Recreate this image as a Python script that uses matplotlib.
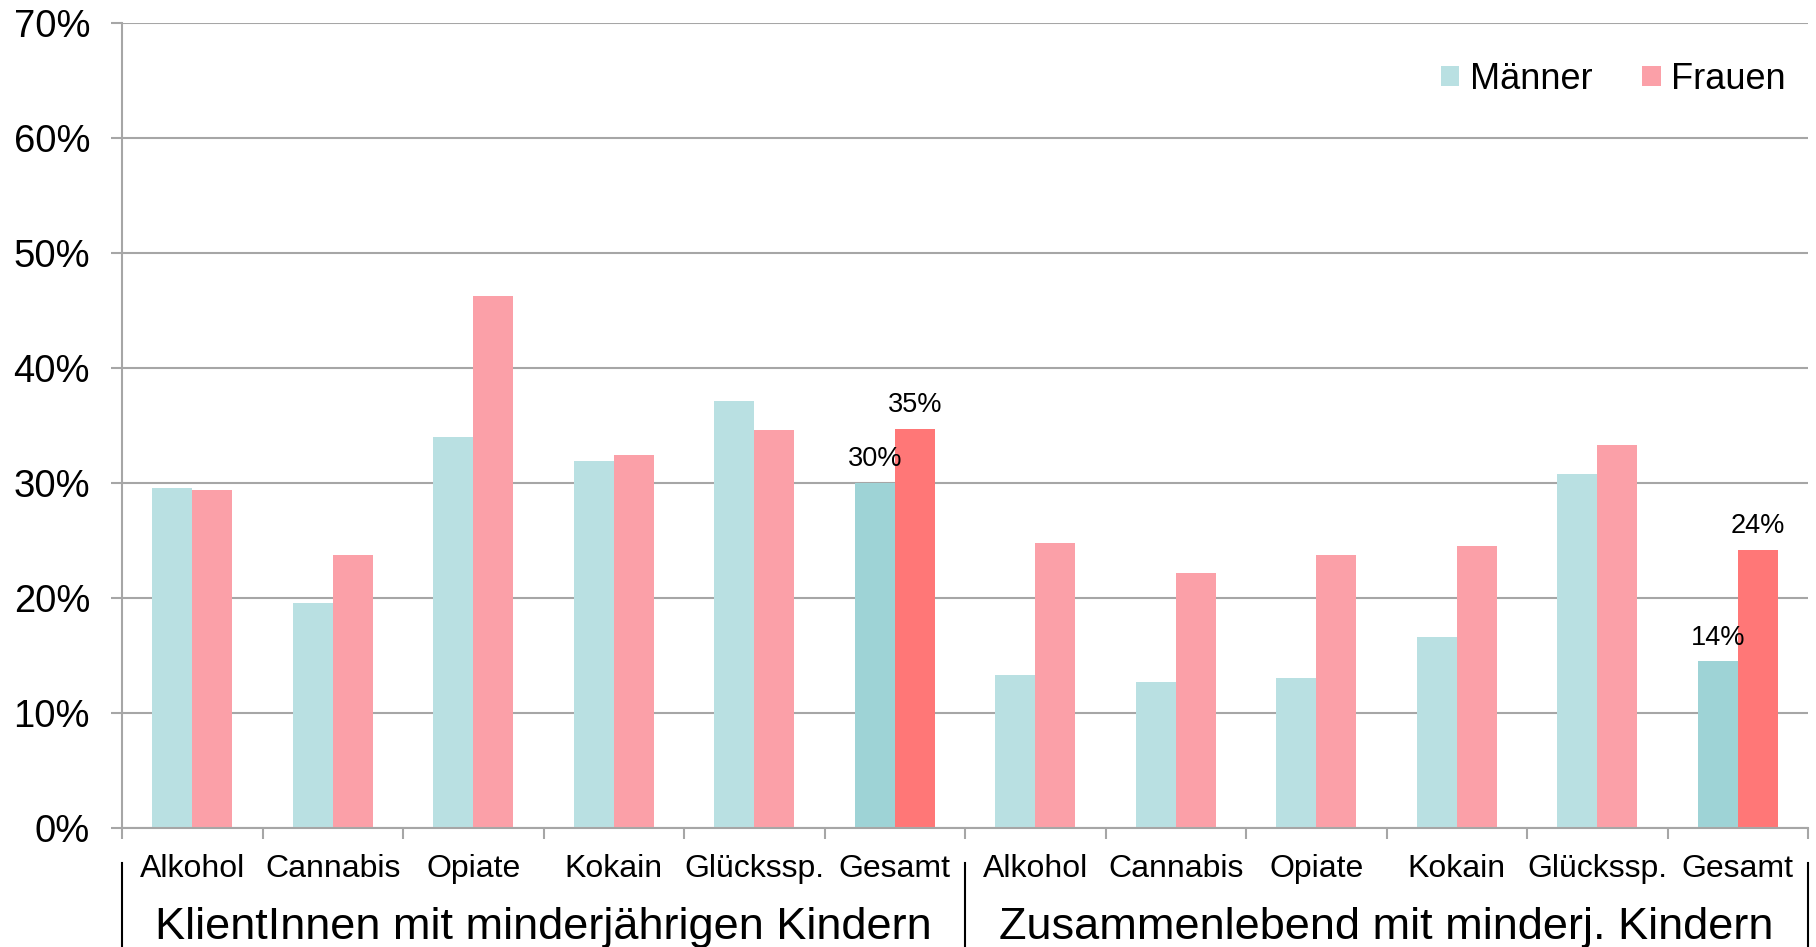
import numpy as np
import matplotlib
matplotlib.use('Agg')
import matplotlib.pyplot as plt
import matplotlib.transforms as mtransforms

plt.rcParams['font.family'] = ['Liberation Sans', 'DejaVu Sans']

tick_labels = ['Alkohol', 'Cannabis', 'Opiate', 'Kokain', 'Glückssp.', 'Gesamt',
               'Alkohol', 'Cannabis', 'Opiate', 'Kokain', 'Glückssp.', 'Gesamt']
groups = ['KlientInnen mit minderjährigen Kindern', 'Zusammenlebend mit minderj. Kindern']
maenner = [29.6, 19.6, 34.0, 31.9, 37.1, 30.0, 13.3, 12.7, 13.0, 16.6, 30.8, 14.5]
frauen = [29.4, 23.7, 46.3, 32.4, 34.6, 34.7, 24.8, 22.2, 23.7, 24.5, 33.3, 24.2]
labelled = [5, 11]

c_m, c_f = '#B9E0E2', '#FBA0A8'
c_m_dark, c_f_dark = '#9ED3D6', '#FF7777'

fig = plt.figure(figsize=(18.16, 9.47), dpi=100)
ax = fig.add_axes([0.0672, 0.1257, 0.9284, 0.85])

x = np.arange(len(tick_labels))
w = 0.285
col_m = [c_m_dark if i in labelled else c_m for i in x]
col_f = [c_f_dark if i in labelled else c_f for i in x]
ax.bar(x - w / 2, maenner, w, color=col_m, label='Männer', zorder=2)
ax.bar(x + w / 2, frauen, w, color=col_f, label='Frauen', zorder=2)

# Prozentwerte nur fuer "Gesamt"
for i in labelled:
    ax.annotate('{:.0f}%'.format(maenner[i]), (x[i] - w / 2, maenner[i]), xytext=(0, 17),
                textcoords='offset points', ha='center', va='center', fontsize=19.5, zorder=3)
    ax.annotate('{:.0f}%'.format(frauen[i]), (x[i] + w / 2, frauen[i]), xytext=(0, 17),
                textcoords='offset points', ha='center', va='center', fontsize=19.5, zorder=3)

ax.set_xlim(-0.5, 11.5)
ax.set_ylim(0, 70)
ax.set_yticks(np.arange(0, 71, 10))
ax.set_yticklabels(['{}%'.format(v) for v in range(0, 71, 10)], fontsize=27.5)
ax.yaxis.grid(True, color='#A6A6A6', linewidth=1.5, zorder=0)
ax.set_axisbelow(True)

ax.set_xticks(x)
ax.set_xticklabels(tick_labels, fontsize=23)
ax.set_xticks(np.arange(-0.5, 12, 1), minor=True)
ax.tick_params(axis='x', which='major', length=0, pad=19)
ax.tick_params(axis='x', which='minor', length=8, width=1.5, color='#A6A6A6')
ax.tick_params(axis='y', length=8, width=1.5, color='#A6A6A6', pad=15)

for s in ['top', 'right']:
    ax.spines[s].set_visible(False)
for s in ['left', 'bottom']:
    ax.spines[s].set_color('#A6A6A6')
    ax.spines[s].set_linewidth(1.5)

trans = mtransforms.blended_transform_factory(ax.transData, ax.transAxes)
for xs in [-0.5, 5.5, 11.5]:
    ax.plot([xs, xs], [-0.0435, -0.148], color='black', linewidth=1.5, transform=trans, clip_on=False)
ax.text(2.5, -0.124, groups[0], transform=trans, ha='center', va='center', fontsize=32.5)
ax.text(8.5, -0.124, groups[1], transform=trans, ha='center', va='center', fontsize=32.5)

ax.legend(loc='center right', bbox_to_anchor=(0.987, 0.930), ncol=2, frameon=False, fontsize=26,
          handlelength=0.51, handleheight=0.51, handletextpad=0.3, columnspacing=1.38, borderpad=0,
          borderaxespad=0)

fig.savefig('out.png', dpi=100, facecolor='white')
